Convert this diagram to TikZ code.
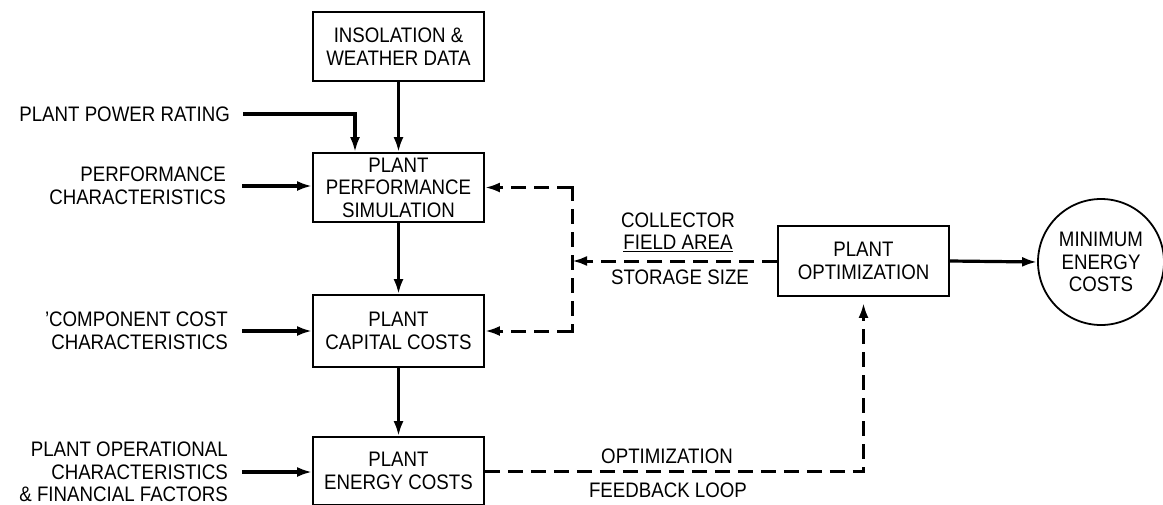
\documentclass[tikz,border=0pt]{standalone}
\usepackage{fontspec}
\setmainfont{Liberation Sans}[FakeStretch=0.89]
\usetikzlibrary{arrows.meta}
\tikzset{
  box/.style={draw, line width=1.8pt, minimum width=171pt, align=center, inner sep=0pt},
  lbl/.style={align=right, anchor=east, inner sep=0pt},
  tlbl/.style={align=center, inner sep=0pt},
  conn/.style={line width=3.2pt, -{Latex[length=15pt,width=10pt]}},
  dline/.style={line width=3pt, dash pattern=on 15pt off 8pt},
  dconn/.style={dline, -{Latex[length=15pt,width=10pt]}},
}
\begin{document}
\begin{tikzpicture}[x=1pt,y=-1pt,font=\fontsize{21}{22.5}\selectfont]
\useasboundingbox (0,0) rectangle (1163,504);
% boxes
\node[box, minimum height=69pt] (ins) at (398.5,46.5) {INSOLATION \&\\WEATHER DATA};
\node[box, minimum height=69pt] (sim) at (398.5,187.5) {PLANT\\PERFORMANCE\\SIMULATION};
\node[box, minimum height=72pt] (cap) at (398.5,331) {PLANT\\CAPITAL COSTS};
\node[box, minimum height=68pt] (energy) at (398.5,471) {PLANT\\ENERGY COSTS};
\node[box, minimum height=70pt] (opt) at (863.5,261) {PLANT\\OPTIMIZATION};
\node[draw, circle, line width=1.8pt, minimum size=126pt, align=center, inner sep=0pt] (circ) at (1101,262) {MINIMUM\\ENERGY\\COSTS};
% left labels
\node[lbl] (ppr) at (230,114) {PLANT POWER RATING};
\node[lbl] (perf) at (226,186) {PERFORMANCE\\CHARACTERISTICS};
\node[lbl] (comp) at (228,331) {'COMPONENT COST\\CHARACTERISTICS};
\node[lbl] (oper) at (228,472) {PLANT OPERATIONAL\\CHARACTERISTICS\\\& FINANCIAL FACTORS};
% feedback labels
\node[tlbl] (coll) at (678,232) {COLLECTOR\\\underline{FIELD AREA}};
\node[tlbl] (stor) at (680,277) {STORAGE SIZE};
\node[tlbl] (optl) at (667,456) {OPTIMIZATION};
\node[tlbl] (fbl) at (668,490) {FEEDBACK LOOP};
\coordinate (fb) at (572,0);
% solid connectors
\draw[conn] (ins.south) -- (sim.north);
\draw[conn] ([xshift=13pt]ppr.east) -| ([xshift=-43.5pt]sim.north);
\draw[conn] ([xshift=16pt]perf.east) -- (perf.east -| sim.west);
\draw[conn] (sim.south) -- (cap.north);
\draw[conn] ([xshift=14pt]comp.east) -- (comp.east -| cap.west);
\draw[conn] (cap.south) -- (energy.north);
\draw[conn] ([xshift=14pt]oper.east) -- (oper.east -| energy.west);
\draw[conn] (opt.east) -- (circ.west);
% dashed feedback
\draw[dconn] (opt.west) -- (opt.west -| fb);
\draw[dline] ([yshift=1.5pt]sim.east -| fb) -- ([yshift=-1.5pt]cap.east -| fb);
\draw[dconn] (sim.east -| fb) -- (sim.east);
\draw[dconn] (cap.east -| fb) -- (cap.east);
\draw[dconn] (energy.east) -| ([yshift=-6pt]opt.south);
\end{tikzpicture}
\end{document}
